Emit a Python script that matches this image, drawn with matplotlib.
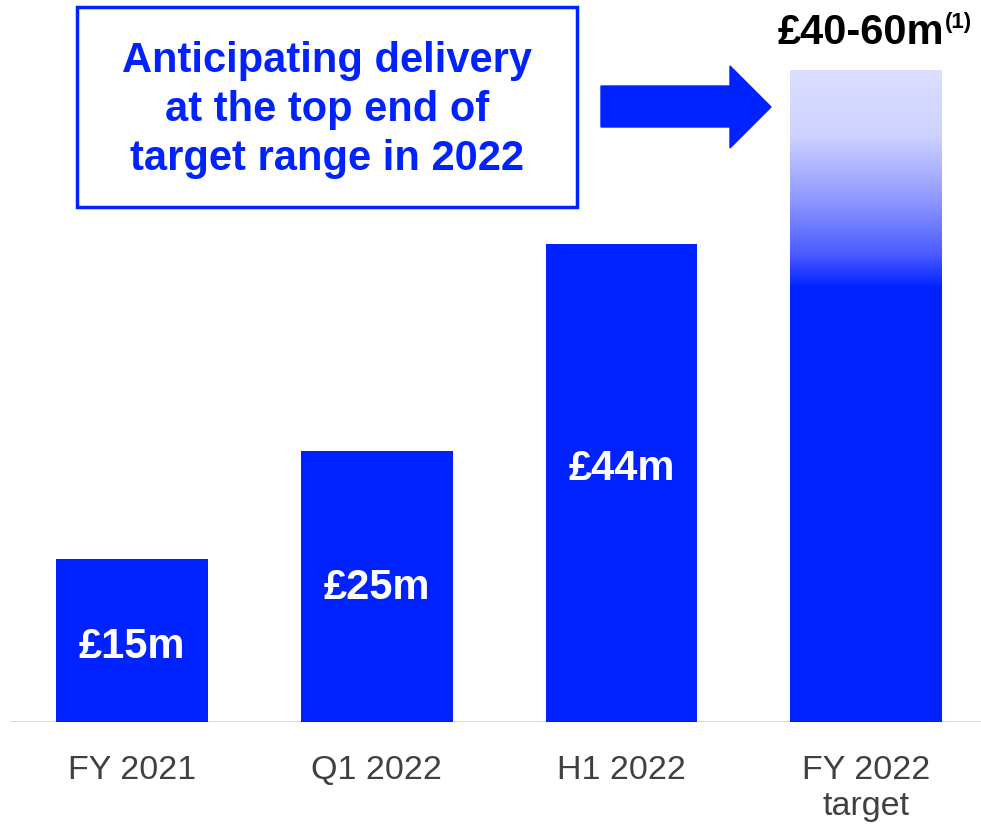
import numpy as np
import matplotlib.pyplot as plt
from matplotlib.colors import LinearSegmentedColormap
from matplotlib.patches import Polygon, Rectangle

plt.rcParams['font.family'] = ['Liberation Sans', 'DejaVu Sans']

# data
categories = ['FY 2021', 'Q1 2022', 'H1 2022', 'FY 2022\ntarget']
values = [15, 25, 44, 40]
labels = ['£15m', '£25m', '£44m', '']
target_low = 40
target_high = 60

blue = '#0022FF'

fig = plt.figure(figsize=(9.81, 8.24), dpi=100)
ax = fig.add_axes([10 / 981, 102 / 824, 971 / 981, 722 / 824])
x = np.arange(len(categories))
w = 0.62
ax.bar(x, values, width=w, color=blue, zorder=2)

# gradient part of target bar (40 -> 60)
grad = LinearSegmentedColormap.from_list(
    'g', [(0, '#DCDFFF'), (0.3, '#CDD2FF'), (0.6, '#8E97FF'),
          (0.85, '#4A5AFF'), (1, blue)])
img = np.linspace(0, 1, 256).reshape(-1, 1)
ax.imshow(img, cmap=grad, aspect='auto', origin='upper',
          extent=[x[3] - w / 2, x[3] + w / 2, target_low, target_high], zorder=2)

# label heights inside bars (fraction of bar)
frac = [0.46, 0.495, 0.53, 0]
for xi, v, lab, f in zip(x, values, labels, frac):
    if lab:
        ax.text(xi, v * f, lab, ha='center', va='center',
                color='white', fontsize=30, fontweight='bold', zorder=3)

ax.set_xlim(-0.5, 3.47)
ax.set_ylim(0, 66.5)
ax.axhline(0, color='#D4D4D4', lw=2, zorder=1)
for s in ax.spines.values():
    s.set_visible(False)
ax.set_yticks([])
ax.set_xticks(x)
ax.set_xticklabels(categories, fontsize=24.5, color='#404040', linespacing=1.2)
ax.tick_params(axis='x', length=0, pad=24)

# overlay for annotations in pixel coords
ov = fig.add_axes([0, 0, 1, 1], facecolor='none')
ov.set_xlim(0, 981)
ov.set_ylim(824, 0)
ov.axis('off')

ov.add_patch(Rectangle((77, 7), 500, 200, fill=False, edgecolor=blue, lw=2.5))
ov.text(327, 110, 'Anticipating delivery\nat the top end of\ntarget range in 2022',
        ha='center', va='center', color=blue, fontsize=30, fontweight='bold',
        linespacing=1.3)

ov.add_patch(Polygon([(601, 86), (730, 86), (730, 66), (771, 107),
                      (730, 148), (730, 127), (601, 127)],
                     closed=True, color=blue))

ov.text(944, 33, '£40-60m', ha='right', va='center', color='black',
        fontsize=30, fontweight='bold')
ov.text(945, 22, '(1)', ha='left', va='center', color='black',
        fontsize=16, fontweight='bold')

fig.savefig('out.png', dpi=100)
